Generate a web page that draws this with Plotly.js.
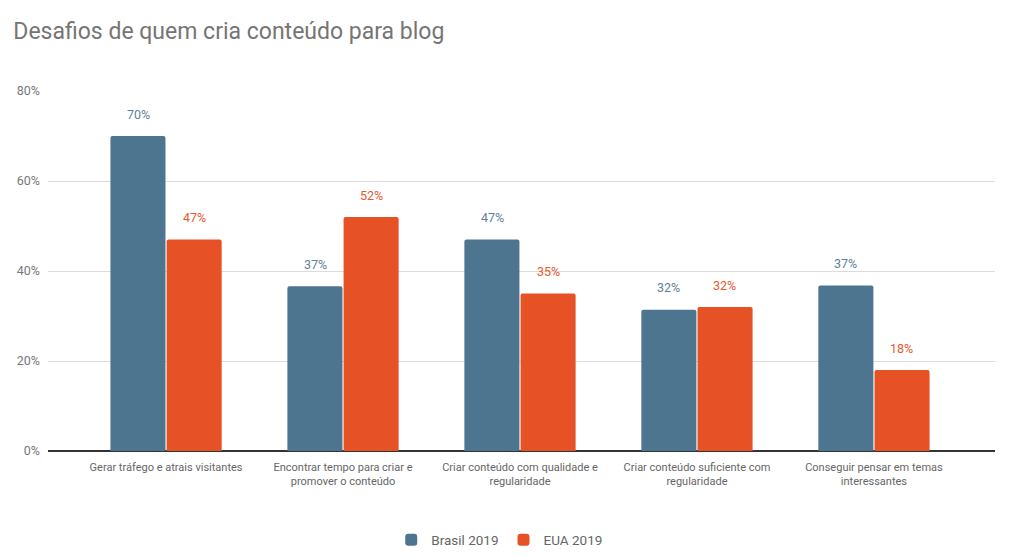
<!DOCTYPE html>
<html>
<head>
<meta charset="utf-8">
<script src="https://cdn.plot.ly/plotly-3.0.1.min.js"></script>
<style>html,body{margin:0;padding:0;background:#fff;}#chart{width:1024px;height:556px;}</style>
</head>
<body>
<div id="chart"></div>
<script>
const categories = [
  "Gerar tráfego e atrais visitantes",
  "Encontrar tempo para criar e<br>promover o conteúdo",
  "Criar conteúdo com qualidade e<br>regularidade",
  "Criar conteúdo suficiente com<br>regularidade",
  "Conseguir pensar em temas<br>interessantes"
];
const brasilValues = [70, 36.6, 47, 31.4, 36.8];
const brasilLabels = ["70%", "37%", "47%", "32%", "37%"];
const euaValues = [47, 52, 35, 32, 18];
const euaLabels = ["47%", "52%", "35%", "32%", "18%"];
const yTicks = [0, 20, 40, 60, 80];
const yTickLabels = ["0%", "20%", "40%", "60%", "80%"];

const xIdx = categories.map((c, i) => i);
const blue = "#4e7590", red = "#e65226";
const blueText = "#5f819c", redText = "#e8582c";

const traces = [
  {type: "bar", name: "Brasil 2019", x: xIdx, y: brasilValues,
   marker: {color: blue, cornerradius: 2}, hoverinfo: "none"},
  {type: "bar", name: "EUA 2019", x: xIdx, y: euaValues,
   marker: {color: red, cornerradius: 2}, hoverinfo: "none"}
];

const annotations = [];
brasilValues.forEach((v, i) => annotations.push({
  x: i, y: v, xref: "x", yref: "y", text: brasilLabels[i], showarrow: false,
  xshift: -28, yshift: 22, font: {family: "Roboto", size: 12.5, color: blueText}
}));
euaValues.forEach((v, i) => annotations.push({
  x: i, y: v, xref: "x", yref: "y", text: euaLabels[i], showarrow: false,
  xshift: 28, yshift: 22, font: {family: "Roboto", size: 12.5, color: redText}
}));

const layout = {
  width: 1024, height: 556,
  paper_bgcolor: "#fff", plot_bgcolor: "#fff",
  margin: {l: 48, r: 29, t: 91, b: 105, autoexpand: false},
  font: {family: "Roboto", color: "#666"},
  title: {text: "Desafios de quem cria conteúdo para blog", x: 0.013, xanchor: "left",
          y: 0.945, yanchor: "middle", font: {family: "Roboto", size: 23, color: "#757575"}},
  barmode: "group", bargap: 0.365, bargroupgap: 0.02,
  xaxis: {
    tickmode: "array", tickvals: xIdx, ticktext: categories,
    range: [-0.667, 4.684], showgrid: false, zeroline: false,
    showline: false, ticks: "", ticklabelstandoff: 8,
    tickfont: {family: "Roboto", size: 11, color: "#666"}
  },
  yaxis: {
    range: [0, 80], tickmode: "array", tickvals: yTicks, ticktext: yTickLabels,
    showgrid: true, gridcolor: "#dcdcdc", gridwidth: 1,
    zeroline: true, zerolinecolor: "#333", zerolinewidth: 1.2,
    ticks: "", ticklabelstandoff: 7,
    tickfont: {family: "Roboto", size: 12.5, color: "#777"}
  },
  showlegend: true,
  legend: {orientation: "h", x: 0.477, xanchor: "center", y: -0.247, yanchor: "middle",
           font: {family: "Roboto", size: 13.5, color: "#666"}, itemwidth: 30},
  annotations: annotations
};

Plotly.newPlot("chart", traces, layout, {displayModeBar: false, staticPlot: true});
</script>
</body>
</html>
